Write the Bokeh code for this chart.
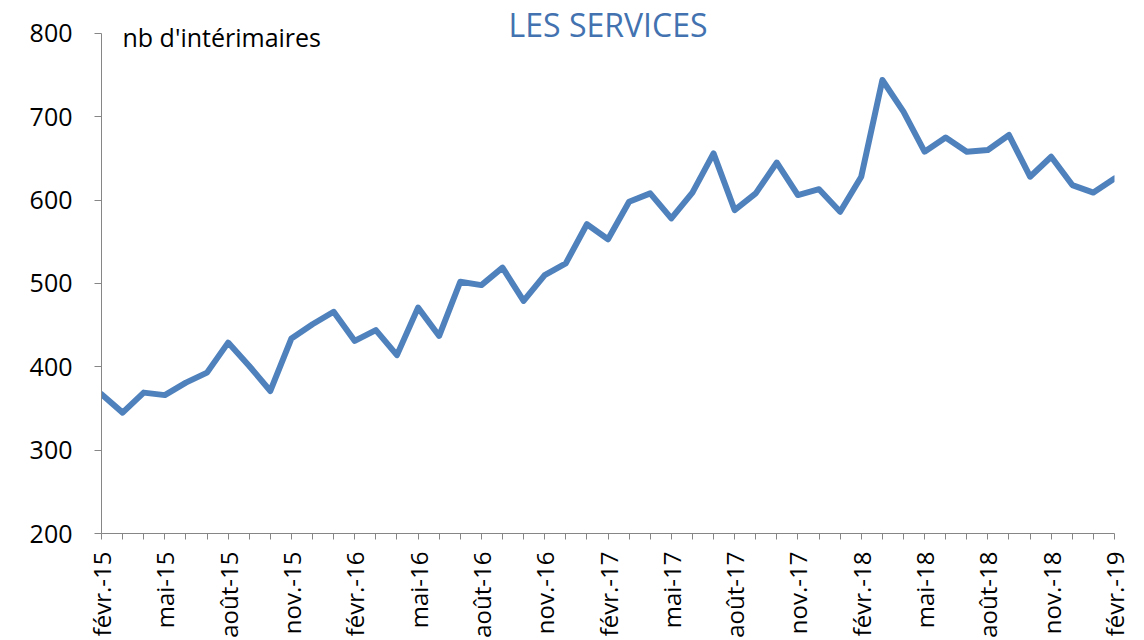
from bokeh.plotting import figure
from bokeh.models import Range1d, FixedTicker, Label
from bokeh.embed import file_html
from bokeh.resources import INLINE
import math

# ---- data ----
months = list(range(49))  # févr.-15 .. févr.-19 (monthly)
values = [367, 345, 369, 366, 381, 393, 429, 401, 371, 434,
          451, 466, 431, 444, 414, 471, 437, 502, 498, 519,
          479, 510, 524, 571, 553, 598, 608, 578, 609, 656,
          588, 608, 645, 606, 613, 586, 628, 744, 706, 658,
          675, 658, 660, 678, 628, 652, 618, 609, 626]
tick_pos = [0, 3, 6, 9, 12, 15, 18, 21, 24, 27, 30, 33, 36, 39, 42, 45, 48]
tick_labels = ["févr.-15", "mai-15", "août-15", "nov.-15",
               "févr.-16", "mai-16", "août-16", "nov.-16",
               "févr.-17", "mai-17", "août-17", "nov.-17",
               "févr.-18", "mai-18", "août-18", "nov.-18",
               "févr.-19"]
y_ticks = [200, 300, 400, 500, 600, 700, 800]
title_text = "LES SERVICES"
unit_text = "nb d'intérimaires"

FONT = "Open Sans"
AXIS_GRAY = "#868686"
BLUE = "#4F81BD"
TITLE_BLUE = "#4372B0"

p = figure(width=1144, height=640, output_backend="svg", toolbar_location=None,
           x_range=Range1d(0, 48), y_range=Range1d(200, 839.4),
           min_border_left=101, min_border_right=30, min_border_top=0,
           min_border_bottom=105)
p.outline_line_color = None
p.xgrid.visible = False
p.ygrid.visible = False

p.line(months, values, line_color=BLUE, line_width=6, line_join="round", line_cap="round")

# y axis
yax = p.yaxis[0]
yax.ticker = FixedTicker(ticks=y_ticks)
yax.bounds = (200, 800)
yax.axis_line_color = AXIS_GRAY
yax.major_tick_line_color = AXIS_GRAY
yax.major_tick_in = 0
yax.major_tick_out = 7
yax.minor_tick_line_color = None
yax.major_label_text_font = FONT
yax.major_label_text_font_size = "25px"
yax.major_label_text_color = "black"
yax.major_label_standoff = 22

# x axis: tick every month, label every 3 months
xax = p.xaxis[0]
xax.ticker = FixedTicker(ticks=months)
xax.axis_line_color = AXIS_GRAY
xax.major_tick_line_color = AXIS_GRAY
xax.major_tick_in = 0
xax.major_tick_out = 6
xax.minor_tick_line_color = None
overrides = {m: "" for m in months}
for pos, lab in zip(tick_pos, tick_labels):
    overrides[pos] = lab
xax.major_label_overrides = overrides
xax.major_label_orientation = math.pi / 2
xax.major_label_text_font = FONT
xax.major_label_text_font_size = "24px"
xax.major_label_text_color = "black"
xax.major_label_standoff = 12

p.add_layout(Label(x=24, y=800, text=title_text, text_align="center",
                   text_baseline="alphabetic", y_offset=9, text_font=FONT,
                   text_font_size="32px", text_color=TITLE_BLUE))
p.add_layout(Label(x=0, y=800, text=unit_text, text_align="left",
                   text_baseline="alphabetic", x_offset=21, y_offset=-4,
                   text_font=FONT, text_font_size="25px", text_color="black"))

open("out.html", "w").write(file_html(p, INLINE))
